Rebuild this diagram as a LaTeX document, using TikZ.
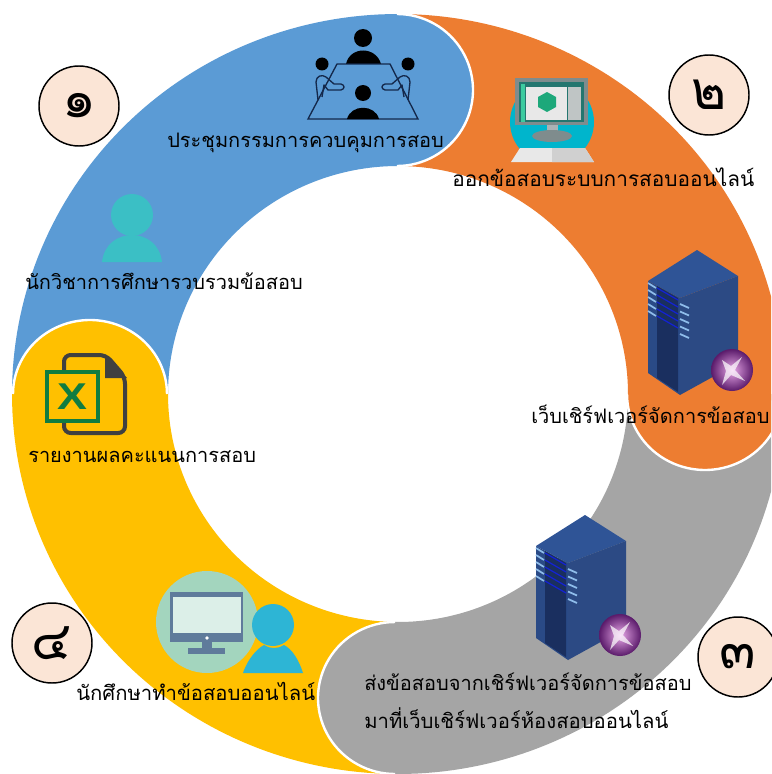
\documentclass[tikz,border=0pt]{standalone}
\usepackage{fontspec}
\newfontfamily\thaifont[Script=Thai]{Loma}
\setsansfont{Liberation Sans}
\definecolor{cblue}{HTML}{5B9BD5}
\definecolor{corange}{HTML}{ED7D31}
\definecolor{cgray}{HTML}{A5A5A5}
\definecolor{cyellow}{HTML}{FFC000}
\definecolor{cpeach}{HTML}{FBE5D6}
\definecolor{cnavy}{HTML}{14284B}
\definecolor{srvtop}{HTML}{2F5496}
\definecolor{srvleft}{HTML}{2A4A86}
\definecolor{srvright}{HTML}{2C4A84}
\definecolor{srvdark}{HTML}{1A2F5F}
\definecolor{srvline}{HTML}{8FBDEB}
\definecolor{cteal}{HTML}{3BBFC5}
\definecolor{ccyan}{HTML}{2DB5D5}
\definecolor{monblob}{HTML}{00B5CC}
\definecolor{mongray}{HTML}{7F8C8D}
\definecolor{monbez}{HTML}{24766F}
\definecolor{monmint}{HTML}{3CCB9F}
\definecolor{monscr}{HTML}{E8E8E8}
\definecolor{monpan}{HTML}{BFC5C5}
\definecolor{monhex}{HTML}{1DA87A}
\definecolor{monstand}{HTML}{AAB2B5}
\definecolor{monkey}{HTML}{D0D0D0}
\definecolor{xldoc}{HTML}{404040}
\definecolor{xlgreen}{HTML}{107C41}
\definecolor{stucirc}{HTML}{A3D5BE}
\definecolor{stumon}{HTML}{5F7B9B}
\definecolor{stuscr}{HTML}{DCEFE8}
\definecolor{globein}{HTML}{E8A8E8}
\definecolor{globeout}{HTML}{5A1A6A}
\tikzset{
 lbl/.style={font=\thaifont\fontsize{#1}{17}\selectfont,inner sep=0pt,anchor=base west,text=black},
 lbl/.default=15,
 numc/.style={circle,draw=black,line width=1.1pt,fill=cpeach,minimum size=60pt,inner sep=0pt},
 numt/.style={inner sep=0pt,font=\thaifont\fontsize{40}{40}\selectfont},
 capedge/.style={draw=white,line width=1.8pt}
}
\newcommand{\ringsector}[3]{%
 \fill[#1] plot[domain=#2:#3,samples=70] ({398+386*cos(\x)},{394-380*sin(\x)})
   -- plot[domain=#3:#2,samples=70] ({398+230*cos(\x)},{394-228*sin(\x)}) -- cycle;}
\newcommand{\headcap}[7]{%
 \fill[#1] plot[domain=#6:#7,samples=50] ({#2+#4*cos(\x)},{#3+#5*sin(\x)}) -- cycle;
 \draw[capedge] plot[domain=#6:#7,samples=50] ({#2+#4*cos(\x)},{#3+#5*sin(\x)});}
\newcommand{\servericon}[2]{%
 \begin{scope}[shift={(#1,#2)}]
  \fill[srvtop] (697,250)--(738,276)--(680,298)--(648,281)--cycle;
  \fill[srvleft] (648,281)--(680,298)--(680,395)--(648,373)--cycle;
  \fill[srvright] (738,276)--(738,363)--(680,395)--(680,298)--cycle;
  \fill[srvdark] (657,286)--(678,298)--(678,392)--(657,378)--cycle;
  \foreach \k in {0,1,2,3,4}{
   \draw[srvline,line width=1.3pt] (648,{283+7*\k})--(656,{288+7*\k});
   \draw[blue!60!srvtop,line width=.9pt] (657,{288+7*\k})--(678,{300+7*\k});
   \draw[srvline,line width=1.3pt] (680,{304+7.5*\k})--(689,{308+7.5*\k});
  }
  \shade[inner color=globein,outer color=globeout] (732,370) circle (21);
  \fill[white,opacity=.7] (722,360)--(731,366)--(742,357)--(735,370)--(745,381)--(731,375)--(722,385)--(726,371)--cycle;
 \end{scope}}
\begin{document}
\begin{tikzpicture}[x=0.75pt,y=-0.75pt]
\useasboundingbox (0,0) rectangle (771,774);
\fill[white] (0,0) rectangle (771,774);
\begin{scope}
\clip (0,0) rectangle (771,774);
% ring bodies
\ringsector{cblue}{180}{89}
\ringsector{corange}{90}{-1}
\ringsector{cgray}{0}{-91}
\ringsector{cyellow}{-92}{-181}
% round heads
\headcap{cblue}{397}{90}{76}{76}{-90}{90}
\headcap{corange}{705}{394}{78}{76}{0}{180}
\headcap{cgray}{395}{698}{77}{76}{90}{270}
\headcap{cyellow}{90}{394}{77}{74}{180}{360}
\end{scope}
% meeting icon
\fill[black] (363,38) circle (9);
\fill[black] (346,64) .. controls (350,46) and (376,46) .. (381,64) -- cycle;
\draw[cnavy,line width=1pt] (337,64)--(390,64)--(418,119)--(308,119)--cycle;
\fill[black] (363,93) circle (8);
\fill[black] (347,119) .. controls (351,104) and (375,104) .. (379,119) -- cycle;
\fill[black] (322,64) circle (6.5);
\draw[cnavy,line width=1pt,line join=round] (318,100)--(316,82) .. controls (316,76) and (322,74) .. (326,77)--(334,84)--(341,84) .. controls (345,85) and (345,89) .. (341,90)--(328,90)--(324,85)--(322,97);
\fill[black] (408,64) circle (6.5);
\begin{scope}[shift={(726,0)},xscale=-1]
\draw[cnavy,line width=1pt,line join=round] (318,100)--(316,82) .. controls (316,76) and (322,74) .. (326,77)--(334,84)--(341,84) .. controls (345,85) and (345,89) .. (341,90)--(328,90)--(324,85)--(322,97);
\end{scope}
% teal person
\fill[cteal] (132,215) circle (21);
\fill[cteal] (102,262) .. controls (104,244) and (118,235) .. (132,235) .. controls (146,235) and (160,244) .. (162,262) -- cycle;
% monitor icon
\begin{scope}
\clip (500,85) rectangle (605,158);
\fill[monblob] (552,122) circle (42);
\end{scope}
\fill[mongray] (515,78) rectangle (588,125);
\fill[monbez] (519,82) rectangle (584,122);
\fill[monmint] (521,84) rectangle (525,122);
\fill[monscr] (526,87) rectangle (567,120);
\fill[monpan] (568,87) rectangle (581,120);
\fill[monhex] (547,92)--(556,97)--(556,107)--(547,112)--(538,107)--(538,97)--cycle;
\fill[monstand] (547,125) rectangle (558,132);
\fill[mongray] (552,136) ellipse (20 and 6);
\fill[monscr] (520,148)--(585,148)--(594,162)--(511,162)--cycle;
\fill[monkey] (552,148)--(585,148)--(594,162)--(552,162)--cycle;
% servers
\servericon{0}{0}
\servericon{-112}{265}
% excel icon
\draw[xldoc,line width=3pt,line join=round,rounded corners=5pt] (64,355)--(106,355)--(125,377)--(125,433)--(64,433)--cycle;
\fill[xldoc] (105,354)--(127,378)--(105,378)--cycle;
\fill[cyellow] (47,372) rectangle (98,421);
\draw[xlgreen,line width=3pt] (47,372) rectangle (98,421);
\node[font=\sffamily\bfseries\fontsize{28}{28}\selectfont,text=xlgreen,inner sep=0pt] (xmark) at (72,397) {\scalebox{1.2}[1]{X}};
% student icon
\fill[stucirc] (207,622) circle (51);
\fill[stumon] (170,592) rectangle (243,642);
\fill[stuscr] (173,597) rectangle (241,633);
\fill[stumon] (202,642) rectangle (212,650);
\fill[stumon] (188,648) rectangle (225,654);
\fill[white] (207,638) circle (1.8);
\fill[ccyan] (273,625) circle (21);
\fill[ccyan] (243,673) .. controls (248,658) and (258,648) .. (264,645) .. controls (270,649) and (278,649) .. (284,645) .. controls (292,649) and (299,660) .. (303,673) -- cycle;
% number badges
\node[numc] (n1) at (79,106) {};
\node[numt] (d1) at (n1) {๑};
\node[numc] (n2) at (709,95) {};
\node[numt] (d2) at (n2) {๒};
\node[numc] (n3) at (738,657) {};
\node[numt] (d3) at (n3) {๓};
\node[numc] (n4) at (52,643) {};
\node[numt] (d4) at (n4) {๔};
% labels
\node[lbl] (t1) at (167,147) {ประชุมกรรมการควบคุมการสอบ};
\node[lbl] (t2) at (25,289) {นักวิชาการศึกษารวบรวมข้อสอบ};
\node[lbl=15.6] (t3) at (452,186) {ออกข้อสอบระบบการสอบออนไลน์};
\node[lbl] (t4) at (531,423) {เว็บเชิร์ฟเวอร์จัดการข้อสอบ};
\node[lbl] (t5) at (28,462) {รายงานผลคะแนนการสอบ};
\node[lbl=15.2] (t6) at (76,700) {นักศึกษาทำข้อสอบออนไลน์};
\node[lbl] (t7) at (364,690) {ส่งข้อสอบจากเชิร์ฟเวอร์จัดการข้อสอบ};
\node[lbl=15.2] (t8) at (364,728) {มาที่เว็บเชิร์ฟเวอร์ห้องสอบออนไลน์};
\end{tikzpicture}
\end{document}
